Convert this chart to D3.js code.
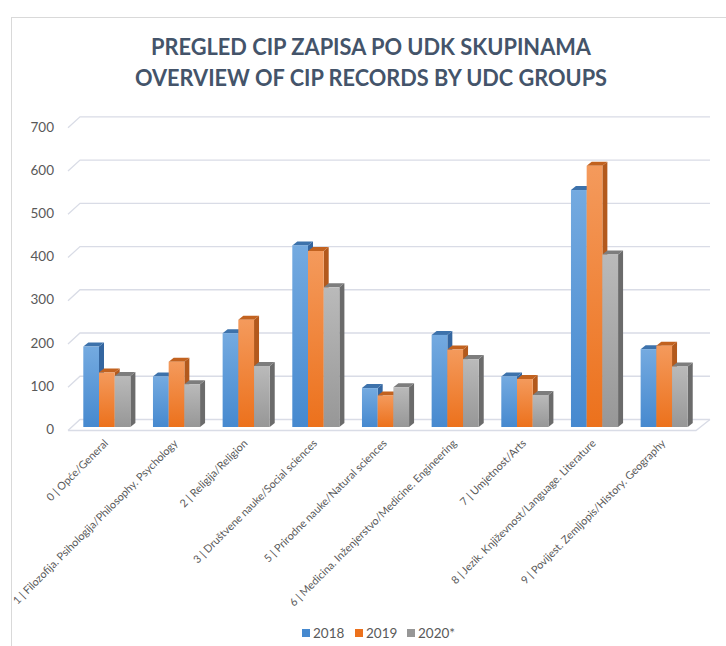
<!DOCTYPE html>
<html>
<head>
<meta charset="utf-8">
<script src="https://cdn.jsdelivr.net/npm/d3@7"></script>
<style>
    body { margin: 0; background: #fff; }
    text { font-family: Lato, "Open Sans", sans-serif; }
</style>
</head>
<body>
<script>
//chart data
var categories = ["0 | Opće/General",
                  "1 | Filozofija. Psihologija/Philosophy. Psychology",
                  "2 | Religija/Religion",
                  "3 | Društvene nauke/Social sciences",
                  "5 | Prirodne nauke/Natural sciences",
                  "6 | Medicina. Inženjerstvo/Medicine. Engineering",
                  "7 | Umjetnost/Arts",
                  "8 | Jezik. Književnost/Language. Literature",
                  "9 | Povijest. Zemljopis/History. Geography"];
var seriesNames = ["2018", "2019", "2020*"];
var values2018 = [186, 117, 217, 420, 90, 213, 117, 548, 180];
var values2019 = [126, 151, 248, 407, 73, 179, 111, 604, 188];
var values2020 = [118, 99, 141, 323, 92, 157, 74, 399, 140];
var yTicks = [0, 100, 200, 300, 400, 500, 600, 700];
var titleLines = ["PREGLED CIP ZAPISA PO UDK SKUPINAMA", "OVERVIEW OF CIP RECORDS BY UDC GROUPS"];

window.onload = drawChart();

function drawChart(){

    var width = 726,
        height = 646;

    var svg = d3.select("body")
        .append("svg")
        .attr("width", width)
        .attr("height", height);

    //colours per series: front gradient top/bottom, side, cap
    var colors = [
        {top: "#74aae0", bottom: "#4689cf", side: "#3466a0", cap: "#3d72ab"},
        {top: "#f49a5c", bottom: "#ec711c", side: "#b3591c", cap: "#c2621f"},
        {top: "#bababa", bottom: "#979797", side: "#6b6b6b", cap: "#7d7d7d"}
    ];
    var allSeries = [values2018, values2019, values2020];

    var defs = svg.append("defs");
    colors.forEach(function(c, i){
        var g = defs.append("linearGradient")
            .attr("id", "grad" + i)
            .attr("x1", 0).attr("y1", 0).attr("x2", 0).attr("y2", 1);
        g.append("stop").attr("offset", "0%").attr("stop-color", c.top);
        g.append("stop").attr("offset", "100%").attr("stop-color", c.bottom);
    });

    //outer frame of the chart
    svg.append("rect")
        .attr("x", 11.5)
        .attr("y", 17.5)
        .attr("width", 760)
        .attr("height", 700)
        .attr("fill", "none")
        .attr("stroke", "#d9d9d9");

    //title, squeezed to the width of the original lines
    var titleWidths = [440, 472];
    svg.selectAll(".title")
        .data(titleLines)
        .enter()
        .append("text")
        .attr("class", "title")
        .attr("x", 371)
        .attr("y", function(d, i){ return 55 + i * 31; })
        .attr("text-anchor", "middle")
        .attr("font-size", "23px")
        .attr("font-weight", "bold")
        .attr("fill", "#44546a")
        .attr("textLength", function(d, i){ return titleWidths[i]; })
        .attr("lengthAdjust", "spacingAndGlyphs")
        .text(function(d){ return d; });

    //scales: y is the back wall, bars are drawn a few px in front of it
    var y = d3.scaleLinear().domain([0, 700]).range([419.5, 116.8]);
    var x = d3.scaleBand().domain(categories).range([72, 699]);
    var depthX = 5, depthY = 4, frontShift = 7.5;
    var barW = 15.7, barOffset = 11.3;

    //gridlines with a small perspective stub on the left
    svg.selectAll(".grid")
        .data(yTicks)
        .enter()
        .append("path")
        .attr("class", "grid")
        .attr("d", function(d){
            var yb = y(d);
            return "M68," + (yb + 11) + "L80," + yb + "L710," + yb;
        })
        .attr("fill", "none")
        .attr("stroke", "#d9dce6")
        .attr("stroke-width", 1.3);

    //front edge of the floor
    svg.append("path")
        .attr("d", "M68," + (y(0) + 11) + "L696," + (y(0) + 11) + "L710," + y(0))
        .attr("fill", "none")
        .attr("stroke", "#d9dce6")
        .attr("stroke-width", 1.3);

    //y tick labels
    svg.selectAll(".ylab")
        .data(yTicks)
        .enter()
        .append("text")
        .attr("class", "ylab")
        .attr("x", 54)
        .attr("y", function(d){ return y(d) + 10; })
        .attr("dy", "0.35em")
        .attr("text-anchor", "end")
        .attr("font-size", "13.5px")
        .attr("fill", "#595959")
        .text(function(d){ return d; });

    //3d bars, drawn left to right so the next face hides the previous side
    var bars = svg.append("g");
    categories.forEach(function(cat, ci){
        allSeries.forEach(function(vals, si){
            var c = colors[si];
            var x0 = x(cat) + barOffset + si * barW,
                x1 = x0 + barW,
                yt = y(vals[ci]) + frontShift,
                yb = y(0) + frontShift;

            bars.append("path") //side
                .attr("d", "M" + x1 + "," + yt + "L" + (x1 + depthX) + "," + (yt - depthY) +
                    "L" + (x1 + depthX) + "," + (yb - depthY) + "L" + x1 + "," + yb + "Z")
                .attr("fill", c.side);
            bars.append("path") //cap
                .attr("d", "M" + x0 + "," + yt + "L" + (x0 + depthX) + "," + (yt - depthY) +
                    "L" + (x1 + depthX) + "," + (yt - depthY) + "L" + x1 + "," + yt + "Z")
                .attr("fill", c.cap);
            bars.append("rect") //front
                .attr("x", x0)
                .attr("y", yt)
                .attr("width", barW)
                .attr("height", yb - yt)
                .attr("fill", "url(#grad" + si + ")");
        });
    });

    //category labels rotated 45 degrees
    svg.selectAll(".xlab")
        .data(categories)
        .enter()
        .append("text")
        .attr("class", "xlab")
        .attr("transform", function(d){
            return "translate(" + (x(d) + x.bandwidth() / 2 + 2) + ",444) rotate(-45)";
        })
        .attr("text-anchor", "end")
        .attr("font-size", "10.8px")
        .attr("fill", "#595959")
        .text(function(d){ return d; });

    //legend
    var legendX = [302, 355, 407];
    var legend = svg.selectAll(".legend")
        .data(seriesNames)
        .enter()
        .append("g")
        .attr("class", "legend")
        .attr("transform", function(d, i){ return "translate(" + legendX[i] + ",633)"; });

    legend.append("rect")
        .attr("x", 0)
        .attr("y", -4)
        .attr("width", 8)
        .attr("height", 8)
        .attr("fill", function(d, i){ return colors[i].bottom; });

    legend.append("text")
        .attr("x", 11)
        .attr("dy", "0.35em")
        .attr("font-size", "13.5px")
        .attr("fill", "#595959")
        .text(function(d){ return d; });
};
</script>
</body>
</html>
